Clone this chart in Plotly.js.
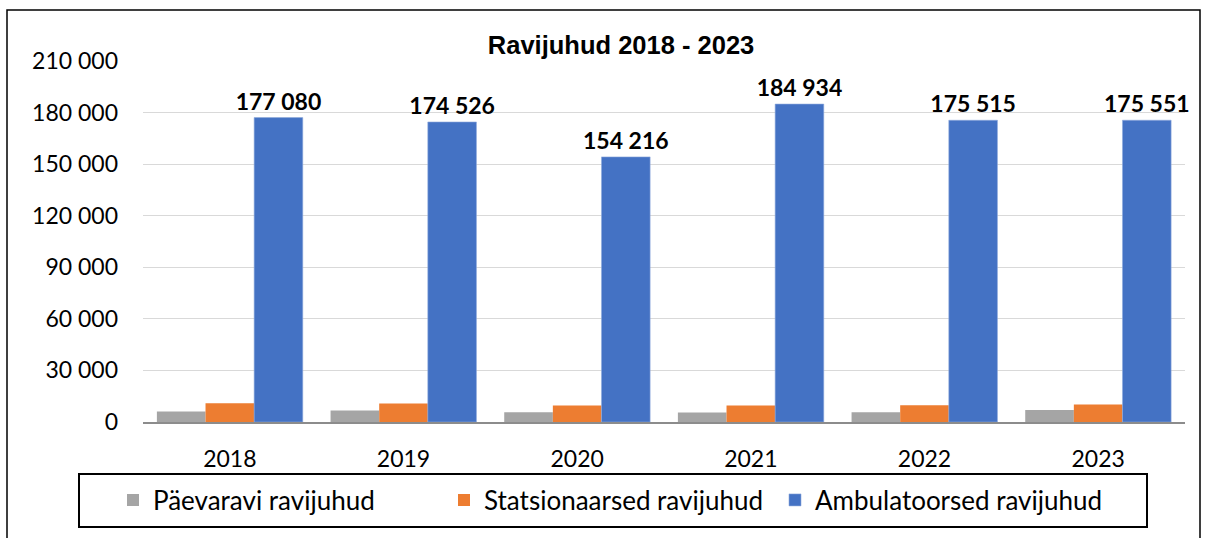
<!DOCTYPE html>
<html>
<head>
<meta charset="utf-8">
<script src="https://cdn.plot.ly/plotly-3.0.1.min.js"></script>
<style>
  body { margin: 0; background: #fff; }
  #chart { width: 1206px; height: 538px; }
</style>
</head>
<body>
<div id="chart"></div>
<script>
// Ravijuhud 2018 - 2023
const years = ['2018', '2019', '2020', '2021', '2022', '2023'];
const paevaravi = [6100, 6650, 5650, 5500, 5650, 7000];
const statsionaarsed = [10900, 10700, 9550, 9550, 9800, 10150];
const ambulatoorsed = [177080, 174526, 154216, 184934, 175515, 175551];
const yTicks = [0, 30000, 60000, 90000, 120000, 150000, 180000, 210000];

const bodyFont = 'Lato, "Open Sans", sans-serif';

const traces = [
    {
        type: 'bar', name: 'Päevaravi ravijuhud', x: years, y: paevaravi,
        marker: { color: '#A5A5A5' }, hoverinfo: 'skip'
    },
    {
        type: 'bar', name: 'Statsionaarsed ravijuhud', x: years, y: statsionaarsed,
        marker: { color: '#ED7D31' }, hoverinfo: 'skip'
    },
    {
        type: 'bar', name: 'Ambulatoorsed ravijuhud', x: years, y: ambulatoorsed,
        marker: { color: '#4472C4', line: { color: '#8FAADC', width: 0.6 } },
        text: ambulatoorsed, texttemplate: '%{y:,d}', textposition: 'outside',
        constraintext: 'none',
        textfont: { family: bodyFont, size: 23, color: '#000', weight: 'bold' },
        cliponaxis: false, hoverinfo: 'skip'
    }
];

// pixel -> paper helpers for the outer frame and the legend box
const L = 143, R = 21, T = 61, B = 116, W = 1206, H = 538;
const pw = W - L - R, ph = H - T - B;
const px = v => (v - L) / pw;
const py = v => (H - B - v) / ph;

const layout = {
    width: W, height: H,
    margin: { l: L, r: R, t: T, b: B },
    paper_bgcolor: '#fff', plot_bgcolor: '#fff',
    separators: ', ',
    bargap: 0.16, bargroupgap: 0,
    showlegend: true,
    title: {
        text: 'Ravijuhud 2018 - 2023',
        font: { family: '"Liberation Sans", Arial, sans-serif', size: 25.5, color: '#000', weight: 'bold' },
        x: 0.515, xanchor: 'center', y: 1 - 45 / H, yanchor: 'middle'
    },
    xaxis: {
        type: 'category',
        tickfont: { family: bodyFont, size: 23, color: '#000' },
        showline: true, linecolor: '#8c8c8c', linewidth: 1.5,
        ticks: '', ticklabelstandoff: 16,
        showgrid: false, zeroline: false, fixedrange: true
    },
    yaxis: {
        range: [0, 210000],
        tickvals: yTicks, tickformat: ',d',
        tickfont: { family: bodyFont, size: 23, color: '#000' },
        ticks: '', ticklabelstandoff: 24,
        showgrid: true, gridcolor: '#d9d9d9', gridwidth: 1,
        showline: false, zeroline: false, fixedrange: true
    },
    legend: {
        orientation: 'h', x: px(113), xanchor: 'left',
        y: py(500), yanchor: 'middle',
        font: { family: bodyFont, size: 26, color: '#000' },
        itemwidth: 30, entrywidth: 286, entrywidthmode: 'pixels',
        bgcolor: 'rgba(0,0,0,0)', borderwidth: 0
    },
    shapes: [
        // outer chart frame
        { type: 'rect', xref: 'paper', yref: 'paper',
          x0: px(7), x1: px(1200), y0: py(560), y1: py(10),
          line: { color: '#000', width: 1.5 }, layer: 'below' },
        // legend box
        { type: 'rect', xref: 'paper', yref: 'paper',
          x0: px(79), x1: px(1147), y0: py(527), y1: py(474),
          line: { color: '#000', width: 2 }, layer: 'below' }
    ]
};

Plotly.newPlot('chart', traces, layout, { displayModeBar: false, staticPlot: true });
</script>
</body>
</html>
